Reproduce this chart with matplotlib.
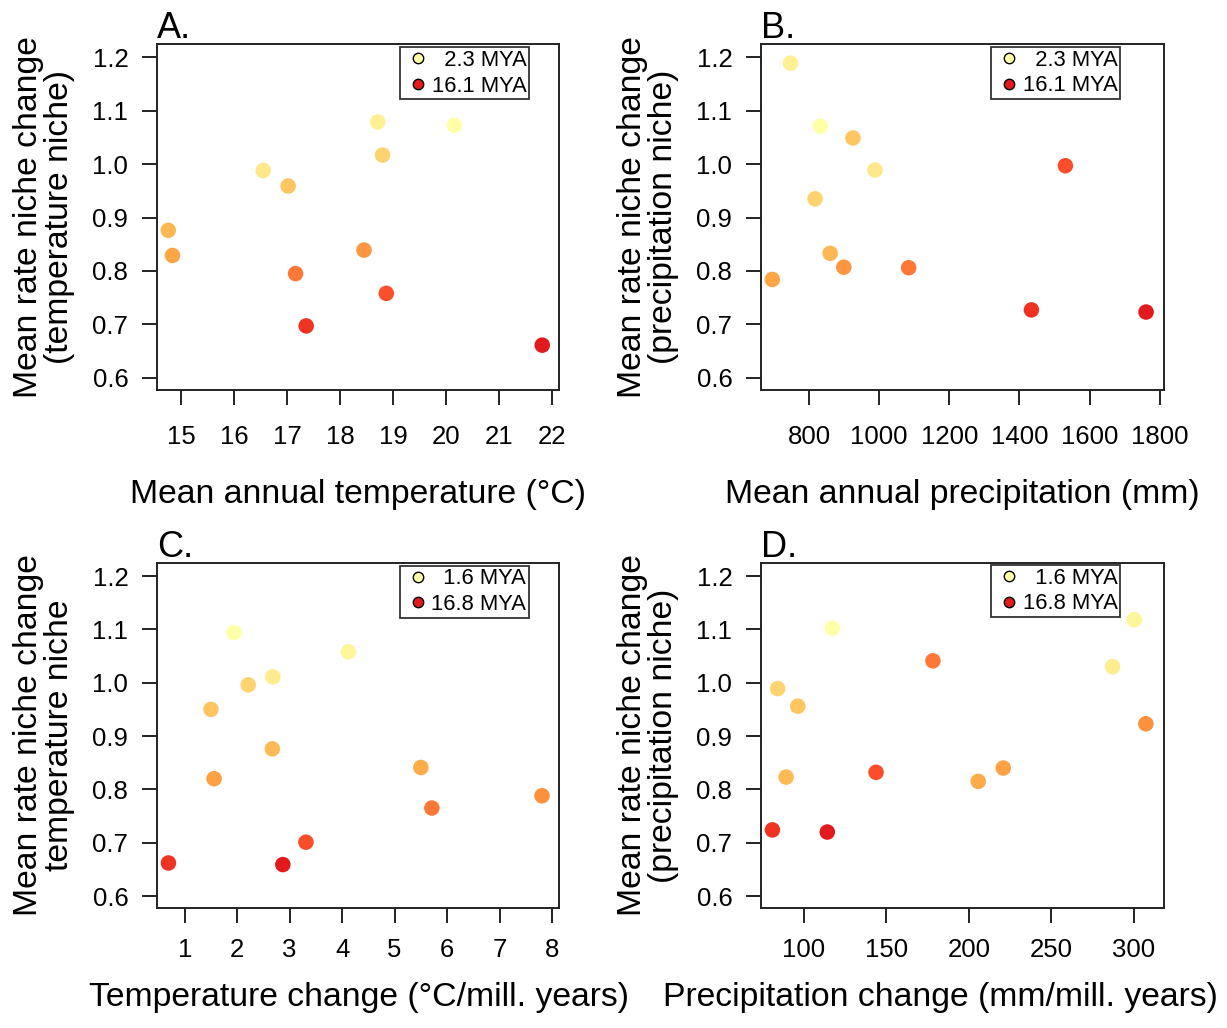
import matplotlib
matplotlib.use("Agg")
import matplotlib.pyplot as plt
from matplotlib.colors import LinearSegmentedColormap
from matplotlib.lines import Line2D

plt.rcParams['font.family'] = ['Liberation Sans', 'DejaVu Sans']

# ---------------- data ----------------
# Clade ages (MYA) used for colouring, panels A & B
ages_ab = [2.3, 3.4, 4.0, 5.5, 6.4, 7.4, 8.8, 9.9, 11.5, 13.3, 14.7, 16.1]
temp_a = [20.15, 18.71, 16.55, 18.80, 17.02, 14.76, 14.84, 18.45, 17.16, 18.87, 17.36, 21.81]
rate_a = [1.073, 1.079, 0.988, 1.017, 0.959, 0.876, 0.829, 0.839, 0.795, 0.758, 0.697, 0.661]
prec_b = [832, 747, 988, 817, 925, 860, 695, 899, 1084, 1531, 1434, 1761]
rate_b = [1.071, 1.189, 0.989, 0.935, 1.049, 0.833, 0.784, 0.807, 0.806, 0.997, 0.727, 0.723]

# Clade ages (MYA), panels C & D
ages_cd = [1.6, 2.4, 3.1, 5.0, 6.2, 7.1, 8.3, 9.2, 10.4, 11.8, 13.8, 15.3, 16.8]
tchg_c = [1.94, 4.12, 2.68, 2.21, 1.50, 2.67, 5.50, 1.56, 7.81, 5.71, 3.31, 0.69, 2.87]
rate_c = [1.094, 1.058, 1.011, 0.996, 0.950, 0.876, 0.841, 0.820, 0.788, 0.765, 0.701, 0.662, 0.659]
pchg_d = [117.2, 300.4, 287.2, 84.0, 96.2, 89.1, 205.7, 220.9, 307.4, 178.2, 143.7, 80.8, 114.1]
rate_d = [1.102, 1.118, 1.030, 0.989, 0.956, 0.823, 0.815, 0.840, 0.923, 1.041, 0.832, 0.724, 0.720]

legend_ab = ['  2.3 MYA', '16.1 MYA']
legend_cd = ['  1.6 MYA', '16.8 MYA']

xticks_a = [15, 16, 17, 18, 19, 20, 21, 22]
xticks_b = [800, 1000, 1200, 1400, 1600, 1800]
xticks_c = [1, 2, 3, 4, 5, 6, 7, 8]
xticks_d = [100, 150, 200, 250, 300]
yticks = [0.6, 0.7, 0.8, 0.9, 1.0, 1.1, 1.2]

# ---------------- style ----------------
cmap = LinearSegmentedColormap.from_list(
    'ylorrd', ['#FFFFA8', '#FED976', '#FEB24C', '#FD8D3C', '#FC4E2A', '#E31A1C'])

W, H = 1227, 1028
fig = plt.figure(figsize=(W / 100, H / 100), dpi=100)


def fx(px):
    return px / W


def fy(py):
    return 1 - py / H


panels = [
    dict(letter='A.', x=temp_a, y=rate_a, ages=ages_ab, box=(156.7, 44, 559, 390),
         xlim=(14.542, 22.126), xticks=xticks_a, xlabel='Mean annual temperature (°C)',
         yl1='Mean rate niche change', yl2='(temperature niche)', leg=legend_ab,
         legbox=(529, 47.3), xpad=14.4, xlab_base=503, xlab_c=358),
    dict(letter='B.', x=prec_b, y=rate_b, ages=ages_ab, box=(760.7, 44, 1164.3, 390),
         xlim=(662, 1813), xticks=xticks_b, xlabel='Mean annual precipitation (mm)',
         yl1='Mean rate niche change', yl2='(precipitation niche)', leg=legend_ab,
         legbox=(1120.3, 47.0), xpad=14.4, xlab_base=503, xlab_c=962),
    dict(letter='C.', x=tchg_c, y=rate_c, ages=ages_cd, box=(156.7, 562.7, 559.3, 908.3),
         xlim=(0.466, 8.139), xticks=xticks_c, xlabel='Temperature change (°C/mill. years)',
         yl1='Mean rate niche change', yl2='temperature niche', leg=legend_cd,
         legbox=(529, 565.7), xpad=10.8, xlab_base=1006, xlab_c=359),
    dict(letter='D.', x=pchg_d, y=rate_d, ages=ages_cd, box=(760.7, 562.7, 1164.3, 908.3),
         xlim=(73.7, 318.6), xticks=xticks_d, xlabel='Precipitation change (mm/mill. years)',
         yl1='Mean rate niche change', yl2='(precipitation niche)', leg=legend_cd,
         legbox=(1120.3, 565.0), xpad=10.8, xlab_base=1006, xlab_c=940),
]

for p in panels:
    l, t, r, b = p['box']
    ax = fig.add_axes([fx(l), fy(b), fx(r) - fx(l), (b - t) / H])
    amin, amax = min(p['ages']), max(p['ages'])
    ax.scatter(p['x'], p['y'], c=p['ages'], cmap=cmap, vmin=amin, vmax=amax,
               s=125, linewidths=0, zorder=3)
    ax.set_xlim(*p['xlim'])
    ax.set_ylim(0.577, 1.225)
    ax.set_xticks(p['xticks'])
    ax.set_xticklabels([str(v) for v in p['xticks']])
    ax.set_yticks(yticks)
    ax.set_yticklabels([f'{v:.1f}' for v in yticks])
    for s in ax.spines.values():
        s.set_linewidth(1.4)
        s.set_color('#222222')
    ax.tick_params(axis='both', direction='out', length=10.8, width=1.4,
                   color='#222222', labelsize=18.5)
    ax.tick_params(axis='x', pad=p['xpad'])
    ax.tick_params(axis='y', pad=9.6)

    # panel letter
    fig.text(fx(l), fy(t - 6), p['letter'], fontsize=26, ha='left', va='baseline')
    # x label
    fig.text(fx(p['xlab_c']), fy(p['xlab_base']), p['xlabel'], fontsize=24.3,
             ha='center', va='baseline')
    # y label (two lines)
    yc = fy((t + b) / 2)
    fig.text(fx(l - 128.5), yc, p['yl1'], fontsize=24.3, rotation=90,
             ha='center', va='center')
    fig.text(fx(l - 97.5), yc, p['yl2'], fontsize=24.3, rotation=90,
             ha='center', va='center')

    # legend
    handles = [
        Line2D([], [], linestyle='', marker='o', markersize=7.5,
               markerfacecolor=cmap(0.0), markeredgecolor='black', markeredgewidth=1.0),
        Line2D([], [], linestyle='', marker='o', markersize=7.5,
               markerfacecolor=cmap(1.0), markeredgecolor='black', markeredgewidth=1.0),
    ]
    lx, ly = p['legbox']
    leg = ax.legend(handles, p['leg'], loc='upper right',
                    bbox_to_anchor=((lx - l) / (r - l), (b - ly) / (b - t)),
                    fontsize=15.8, frameon=True, fancybox=False, borderpad=0.12,
                    handlelength=1.38, handletextpad=-0.06, labelspacing=0.22,
                    borderaxespad=0.0)
    leg.get_frame().set_edgecolor('black')
    leg.get_frame().set_linewidth(1.3)

fig.savefig('out.png', dpi=100)
